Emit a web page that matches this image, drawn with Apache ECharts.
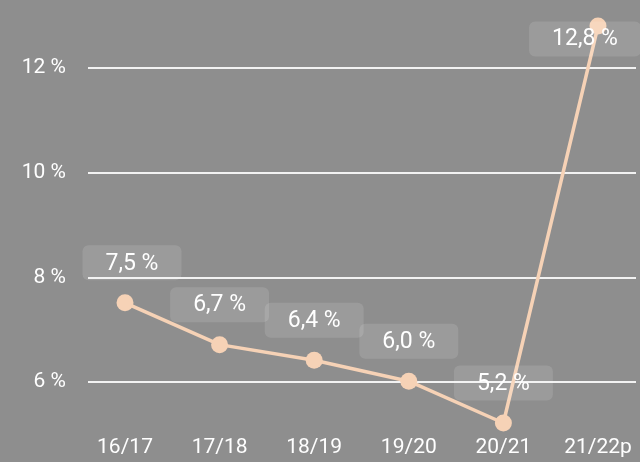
<!DOCTYPE html>
<html>
<head>
<meta charset="utf-8">
<script src="https://cdn.jsdelivr.net/npm/echarts@6/dist/echarts.min.js"></script>
<style>
  html, body { margin: 0; padding: 0; background: #8e8e8e; }
  #chart { width: 640px; height: 462px; }
</style>
</head>
<body>
<div id="chart"></div>
<script>
const seasons = ['16/17', '17/18', '18/19', '19/20', '20/21', '21/22p'];
const rates = [7.5, 6.7, 6.4, 6.0, 5.2, 12.8];
const yTicks = [6, 8, 10, 12];

const fmt = v => v.toFixed(1).replace('.', ',') + ' %';

const chart = echarts.init(document.getElementById('chart'));

const labelBox = {
    show: true,
    position: 'top',
    distance: 14,
    color: '#fff',
    fontFamily: 'Roboto',
    fontSize: 23,
    lineHeight: 27,
    backgroundColor: 'rgba(255,255,255,0.12)',
    borderRadius: 6,
    padding: [5, 23, 3, 23],
    formatter: p => fmt(p.value)
};

const points = rates.map((v, i) => {
    if (i === 0) return { value: v, label: { offset: [7, 0] } };
    if (i === rates.length - 1) return { value: v, label: { position: 'inside', offset: [-13, 13] } };
    return v;
});

const option = {
    backgroundColor: '#8e8e8e',
    animation: false,
    grid: [
        { left: 125, right: 42, top: 26, bottom: 39 },   // data
        { left: 88, right: 4, top: 68, bottom: 80 }      // gridlines + y labels
    ],
    xAxis: [
        {
            gridIndex: 0,
            type: 'category',
            boundaryGap: false,
            data: seasons,
            axisLine: { show: false },
            axisTick: { show: false },
            axisLabel: { color: '#fff', fontFamily: 'Roboto', fontSize: 21, margin: 14 }
        },
        { gridIndex: 1, type: 'value', show: false }
    ],
    yAxis: [
        { gridIndex: 0, type: 'value', min: 5.2, max: 12.8, show: false },
        {
            gridIndex: 1,
            type: 'value',
            min: yTicks[0],
            max: yTicks[yTicks.length - 1],
            interval: 2,
            axisLine: { show: false },
            axisTick: { show: false },
            splitLine: { lineStyle: { color: '#f2f2f2', width: 2 } },
            axisLabel: { color: '#fff', fontFamily: 'Roboto', fontSize: 21, margin: 22, formatter: '{value} %' }
        }
    ],
    series: [
        {
            type: 'line',
            xAxisIndex: 0,
            yAxisIndex: 0,
            data: points,
            clip: false,
            symbol: 'circle',
            symbolSize: 17,
            lineStyle: { color: '#f6d2b6', width: 3.5 },
            itemStyle: { color: '#f6d2b6' },
            label: labelBox,
            z: 3
        }
    ]
};

chart.setOption(option);
</script>
</body>
</html>
